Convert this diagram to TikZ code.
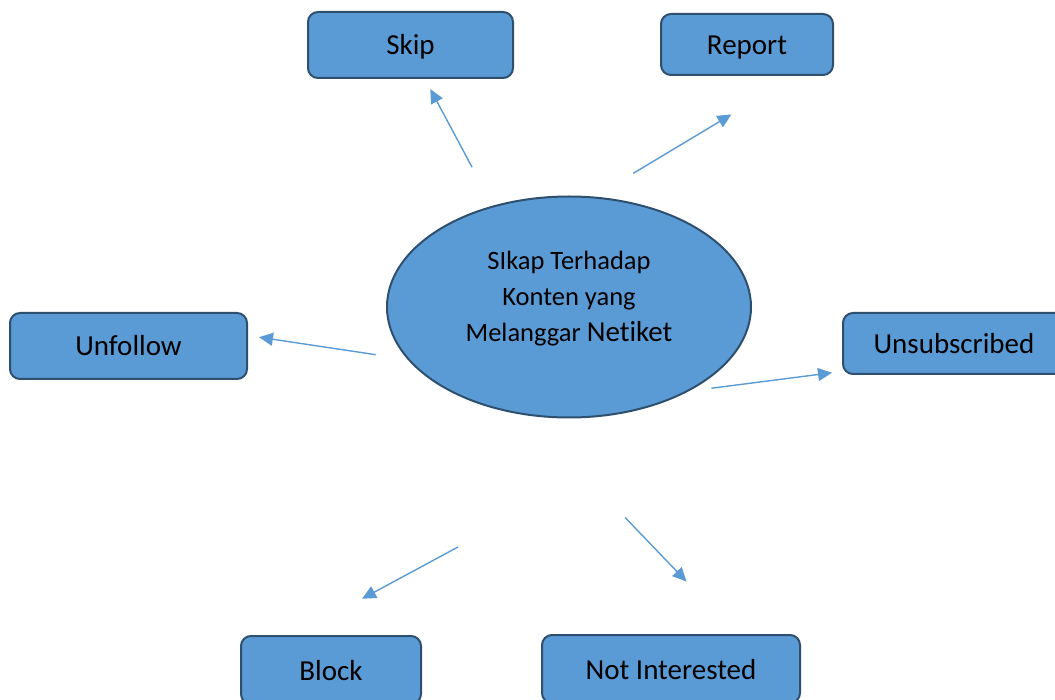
\documentclass[tikz,border=0pt]{standalone}
\usepackage{fontspec}
\setmainfont{Carlito}[Ligatures=NoCommon]
\usetikzlibrary{shapes.geometric,arrows.meta}
\definecolor{wordblue}{RGB}{91,155,213}
\definecolor{wordedge}{RGB}{46,79,110}

\begin{document}
\begin{tikzpicture}[x=1pt,y=-1pt]

%
% Styles
%
\tikzstyle{box} = [rectangle,rounded corners=10pt,draw=wordedge,fill=wordblue,line width=2pt,font=\fontsize{29}{35}\selectfont,inner sep=0pt,text height=24pt,text depth=4pt]
\tikzstyle{oval} = [ellipse,draw=wordedge,fill=wordblue,line width=2pt,minimum width=364pt,minimum height=221pt,inner sep=0pt]
\tikzstyle{arr} = [-{Triangle[length=14pt,width=13pt]},draw=wordblue,line width=1.4pt]

\useasboundingbox (0,0) rectangle (1055,700);

\node[oval] (ell) at (569,307) {};
\node[align=center,font=\fontsize{26.5}{36}\selectfont] (ellText) at (569,299)
  {SIkap Terhadap\\Konten yang\\Melanggar {\fontsize{29}{36}\selectfont Netiket}};

\node[box,minimum width=205pt,minimum height=66pt] (skip)     at (410.5,45)  {Skip};
\node[box,minimum width=172pt,minimum height=61pt] (report)   at (747,44.5)  {Report};
\node[box,minimum width=237pt,minimum height=66pt] (unfollow) at (128.5,346) {Unfollow};
\node[box,minimum width=222pt,minimum height=61pt] (unsub)    at (954,343.5) {Unsubscribed};
\node[box,minimum width=180pt,minimum height=68pt] (block)    at (331,670)   {Block};
\node[box,minimum width=258pt,minimum height=68pt] (notint)   at (671,669)   {Not Interested};
\coordinate (blockTail) at (458,547);

\draw[arr,shorten <=43.6pt,shorten >=11.4pt]  (ell.127)  -- (skip.-67);
\draw[arr,shorten <=45.1pt,shorten >=74.7pt]  (ell.77)   -- (report.-33);
\draw[arr,shorten <=32.2pt,shorten >=11.1pt]  (ell.-162) -- (unfollow.5);
\draw[arr,shorten <=22.4pt,shorten >=10.1pt]  (ell.-35)  -- (unsub.-166);
\draw[arr,shorten >=76.4pt]                   (blockTail) -- (block.136);
\draw[arr,shorten <=141.3pt,shorten >=72.6pt] (ell.-111) -- (notint.28);

\end{tikzpicture}
\end{document}
